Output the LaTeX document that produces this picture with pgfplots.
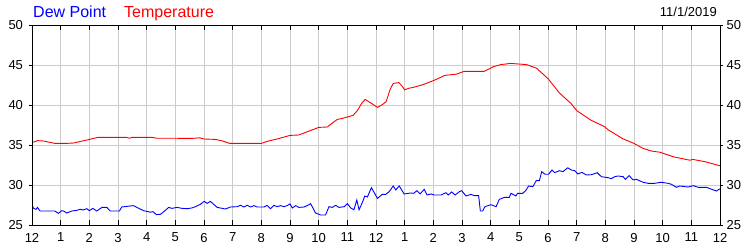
\documentclass[border=0pt]{standalone}
\usepackage{pgfplots}
\pgfplotsset{compat=1.18}
\usepackage{fontspec}
\setmainfont{Liberation Sans}
\definecolor{gridgray}{RGB}{204,204,204}
\definecolor{dpblue}{RGB}{0,0,255}
\definecolor{tred}{RGB}{255,0,0}
\begin{document}
\begin{tikzpicture}[x=1pt,y=1pt]
\path[use as bounding box] (0,0) rectangle (750,250);
\begin{axis}[
  at={(32pt,25pt)}, anchor=south west,
  scale only axis, width=688pt, height=200pt,
  xmin=0, xmax=24, ymin=25, ymax=50,
  xtick={0,1,...,24},
  xticklabels={12,1,2,3,4,5,6,7,8,9,10,11,12,1,2,3,4,5,6,7,8,9,10,11,12},
  ytick={25,30,...,50},
  grid=major,
  major grid style={color=gridgray, line width=0.8pt},
  axis line style={black, line width=0.9pt},
  major tick length=5pt,
  xtick align=inside,
  ytick style={draw=none},
  xtick style={black, line width=0.9pt},
  tick label style={font=\fontsize{13}{13}\selectfont},
  /pgf/number format/assume math mode=true,
  xticklabel style={yshift=-4.5pt},
  yticklabel style={xshift=-5.5pt},
  clip=true,
]
\addplot[tred, line width=0.9pt] coordinates {
(0,35.3)(0.2,35.55)(0.4,35.5)(0.8,35.2)(1.2,35.2)(1.45,35.25)(1.7,35.45)(2.0,35.7)(2.3,35.95)(3.3,35.95)(3.4,35.85)(3.5,35.95)(4.2,35.95)(4.35,35.85)(5.6,35.83)(5.85,35.9)(6.0,35.75)(6.4,35.7)(6.65,35.5)(6.9,35.2)(8.0,35.2)(8.2,35.45)(8.6,35.8)(9.0,36.2)(9.3,36.25)(9.6,36.65)(10.0,37.2)(10.3,37.25)(10.5,37.8)(10.65,38.2)(10.8,38.3)(11.0,38.5)(11.2,38.7)(11.35,39.3)(11.5,40.2)(11.62,40.7)(11.8,40.3)(12.05,39.7)(12.2,40.0)(12.35,40.4)(12.5,42.0)(12.6,42.7)(12.8,42.8)(12.9,42.4)(13.0,41.9)(13.15,42.1)(13.3,42.2)(13.6,42.5)(13.9,42.9)(14.1,43.2)(14.4,43.7)(14.8,43.85)(15.07,44.2)(15.77,44.2)(16.1,44.8)(16.35,45.05)(16.7,45.2)(17.25,45.05)(17.6,44.6)(18.0,43.3)(18.4,41.5)(18.8,40.2)(19.0,39.3)(19.5,38.1)(19.97,37.3)(20.1,36.9)(20.6,35.8)(21.0,35.2)(21.3,34.6)(21.6,34.25)(21.9,34.1)(22.4,33.5)(22.95,33.1)(23.05,33.2)(23.5,32.9)(24,32.4)
};
\addplot[dpblue, line width=0.9pt] coordinates {
(0.00,27.6)(0.05,27.1)(0.14,26.96)(0.19,27.2)(0.28,26.75)(0.80,26.75)(0.92,26.46)(1.04,26.79)(1.10,26.75)(1.21,26.5)(1.39,26.75)(1.56,26.83)(1.68,26.96)(1.79,26.88)(1.91,27.04)(2.00,26.79)(2.12,27.08)(2.26,26.75)(2.44,27.2)(2.61,27.2)(2.73,26.75)(3.05,26.75)(3.13,27.25)(3.43,27.38)(3.54,27.42)(3.66,27.2)(3.89,26.8)(4.13,26.6)(4.22,26.67)(4.34,26.3)(4.48,26.33)(4.59,26.65)(4.77,27.2)(4.88,27.08)(5.06,27.2)(5.23,27.08)(5.41,27.04)(5.58,27.13)(5.70,27.29)(5.87,27.58)(6.01,27.96)(6.11,27.7)(6.22,27.96)(6.46,27.2)(6.75,27.0)(6.92,27.25)(7.16,27.29)(7.27,27.46)(7.39,27.25)(7.51,27.46)(7.62,27.25)(7.74,27.42)(7.85,27.25)(8.09,27.25)(8.20,27.46)(8.32,27.04)(8.44,27.46)(8.55,27.29)(8.67,27.42)(8.79,27.29)(8.90,27.42)(9.00,27.63)(9.08,27.13)(9.20,27.42)(9.31,27.2)(9.49,27.25)(9.60,27.42)(9.72,27.67)(9.89,26.5)(10.07,26.25)(10.24,26.25)(10.36,27.29)(10.48,27.2)(10.59,27.46)(10.71,27.2)(10.89,27.29)(11.00,27.67)(11.12,27.13)(11.23,26.9)(11.33,28.13)(11.41,26.9)(11.52,27.79)(11.61,28.63)(11.70,28.5)(11.84,29.67)(12.05,28.33)(12.22,28.83)(12.34,28.83)(12.46,29.17)(12.60,29.88)(12.69,29.38)(12.81,29.88)(12.98,28.88)(13.21,29.0)(13.31,28.96)(13.43,29.29)(13.54,28.88)(13.68,29.46)(13.78,28.75)(13.92,28.88)(14.03,28.75)(14.27,28.75)(14.44,29.04)(14.52,28.75)(14.64,29.13)(14.76,28.75)(14.91,29.17)(14.99,29.29)(15.14,28.63)(15.31,28.83)(15.43,28.67)(15.58,28.67)(15.64,26.75)(15.72,26.75)(15.80,27.29)(16.01,27.54)(16.19,27.29)(16.30,28.2)(16.48,28.46)(16.65,28.46)(16.71,28.96)(16.88,28.63)(16.94,28.96)(17.12,28.96)(17.24,29.38)(17.32,29.88)(17.47,29.79)(17.59,30.54)(17.70,30.54)(17.78,31.67)(17.90,31.34)(18.02,31.34)(18.14,31.88)(18.23,31.54)(18.40,31.79)(18.52,31.67)(18.69,32.15)(18.81,31.88)(18.93,31.79)(19.04,31.38)(19.18,31.58)(19.34,31.25)(19.51,31.29)(19.63,31.42)(19.72,31.54)(19.86,31.04)(20.09,30.92)(20.21,30.79)(20.33,31.04)(20.44,31.13)(20.62,31.04)(20.70,30.71)(20.83,31.17)(20.97,30.63)(21.08,30.71)(21.32,30.34)(21.49,30.21)(21.72,30.21)(21.95,30.34)(22.19,30.21)(22.31,30.08)(22.48,29.71)(22.60,29.88)(22.77,29.79)(22.89,29.75)(23.07,29.92)(23.24,29.71)(23.53,29.71)(23.71,29.46)(23.88,29.25)(23.96,29.46)(24.00,29.5)
};
\end{axis}
\begin{axis}[
  at={(32pt,25pt)}, anchor=south west,
  scale only axis, width=688pt, height=200pt,
  xmin=0, xmax=24, ymin=25, ymax=50,
  xtick=\empty,
  ytick={25,30,...,50},
  ytick pos=both,
  yticklabel pos=right,
  major tick length=3pt,
  tick align=outside,
  ytick style={black, line width=0.9pt},
  axis line style={black, line width=0.9pt},
  tick label style={font=\fontsize{13}{13}\selectfont},
  /pgf/number format/assume math mode=true,
  yticklabel style={xshift=0pt},
]
\end{axis}
\node[anchor=base west, inner sep=0pt, text=dpblue, font=\fontsize{16}{16}\selectfont] at (33,233) {Dew Point};
\node[anchor=base west, inner sep=0pt, text=tred, font=\fontsize{16}{16}\selectfont] at (124,233) {Temperature};
\node[anchor=base east, inner sep=0pt, font=\fontsize{13}{13}\selectfont] at (717,233.5) {11/1/2019};
\end{tikzpicture}
\end{document}
